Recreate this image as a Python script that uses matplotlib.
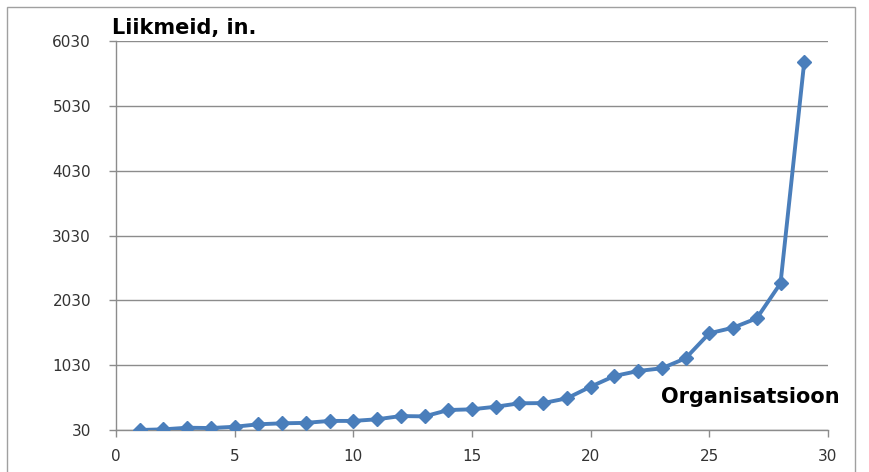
import matplotlib.pyplot as plt
from matplotlib.patches import Rectangle

# organisation index and number of members
org = list(range(1, 30))
members = [30, 40, 65, 60, 80, 118, 133, 140, 170, 170,
           195, 245, 240, 338, 349, 389, 442, 445, 519, 698,
           863, 940, 982, 1136, 1522, 1608, 1753, 2293, 5711]

yticks = [30, 1030, 2030, 3030, 4030, 5030, 6030]
xticks = [0, 5, 10, 15, 20, 25, 30]

blue = '#4a7ebb'
grey = '#8c8c8c'

fig = plt.figure(figsize=(8.69, 4.72), dpi=100)
ax = fig.add_axes([0.1335, 0.089, 0.8193, 0.824])

# outer chart frame
fig.patches.append(Rectangle((7 / 869, -0.05), 848 / 869, 1.05 - 7 / 472,
                             transform=fig.transFigure, fill=False,
                             edgecolor='#a0a0a0', linewidth=1))

ax.plot(org, members, color=blue, linewidth=2.8, marker='D',
        markersize=7.5, markeredgecolor=blue, markerfacecolor=blue, zorder=3)

ax.set_xlim(0, 30)
ax.set_ylim(30, 6030)
ax.set_xticks(xticks)
ax.set_yticks(yticks)
ax.yaxis.grid(True, color=grey, linewidth=1)
ax.set_axisbelow(True)

for s in ['top', 'right']:
    ax.spines[s].set_visible(False)
for s in ['left', 'bottom']:
    ax.spines[s].set_color(grey)
    ax.spines[s].set_linewidth(1)

ax.tick_params(axis='both', colors=grey, length=5, width=1,
               labelcolor='#333333', labelsize=11)
ax.tick_params(axis='y', pad=13)
ax.tick_params(axis='x', pad=9)

ax.text(-0.005, 1.008, 'Liikmeid, in.', transform=ax.transAxes,
        fontsize=15, fontweight='bold', ha='left', va='bottom')
ax.text(1.016, 0.085, 'Organisatsioon', transform=ax.transAxes,
        fontsize=15, fontweight='bold', ha='right', va='center')

fig.savefig('out.png', dpi=100)
